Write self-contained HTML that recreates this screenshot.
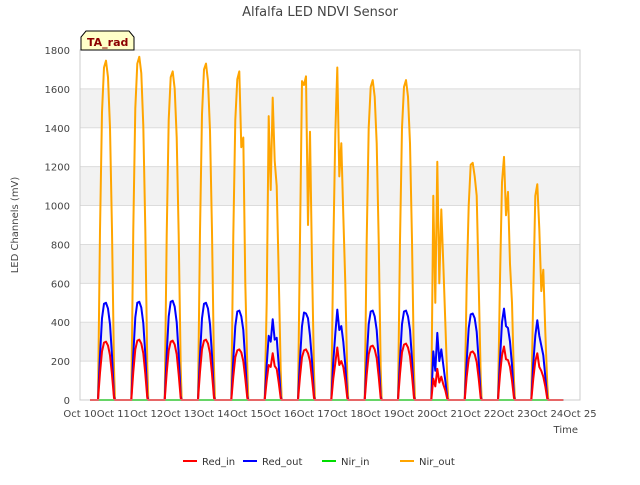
<!DOCTYPE html>
<html><head><meta charset="utf-8"><style>
body{margin:0;background:#fff;font-family:"Liberation Sans","DejaVu Sans",sans-serif}
svg text{font-family:"DejaVu Sans","Liberation Sans",sans-serif}
</style></head><body>
<svg id="c" width="640" height="480" xmlns="http://www.w3.org/2000/svg">
<text x="320" y="16" text-anchor="middle" font-size="13" fill="#444">Alfalfa LED NDVI Sensor</text>
<g id="grid"></g>
<g id="series"></g>
<g id="axes"></g>
<g>
<path d="M81,50 L81,37 L86,31 L129,31 L134,37 L134,50 Z" fill="#ffffc8" stroke="#000" stroke-width="1"/>
<text x="87" y="46" font-size="11" font-weight="bold" fill="#8b0000">TA_rad</text>
</g>
<text x="578" y="433" text-anchor="end" font-size="10" fill="#444">Time</text>
<text x="18" y="225" text-anchor="middle" font-size="10" fill="#444" transform="rotate(-90 18 225)">LED Channels (mV)</text>
<g id="legend"></g>
</svg>
<script>
const days=[10,11,12,13,14,15,16,17,18,19,20,21,22,23];
const offsets=[0.54,0.6,0.66,0.72,0.78,0.84,0.9,0.96,1.02,1.05];
const nirOut=[
[0,870,1480,1710,1745,1660,1400,870,170,0],
[0,880,1500,1730,1765,1680,1410,880,180,0],
[0,845,1440,1660,1690,1600,1350,845,170,0],
[0,865,1470,1700,1730,1640,1385,865,170,0],
[0,845,1440,1650,1690,1300,1350,600,170,0],
[0,500,1460,1080,1555,1230,1100,650,150,0],
[0,830,1640,1620,1665,900,1380,700,150,0],
[0,780,1370,1710,1150,1320,950,600,120,0],
[0,820,1400,1610,1645,1560,1320,820,160,0],
[0,820,1400,1610,1645,1560,1320,820,160,0],
[0,1050,500,1225,600,980,700,400,100,0],
[0,600,1000,1210,1220,1150,1050,600,120,0],
[0,620,1120,1250,950,1070,700,500,100,0],
[0,550,1050,1110,880,560,670,350,80,0]];
const redOut=[
[0,230,420,495,500,470,390,230,20,0],
[0,235,425,500,505,475,395,235,20,0],
[0,235,430,505,510,480,400,235,20,0],
[0,230,420,495,500,470,390,230,20,0],
[0,210,380,455,460,430,360,200,20,0],
[0,180,330,300,415,310,320,180,20,0],
[0,210,380,450,445,420,330,200,20,0],
[0,200,340,465,360,380,300,180,20,0],
[0,210,390,455,460,430,360,210,20,0],
[0,210,390,455,460,430,360,210,20,0],
[0,250,150,345,200,260,180,100,10,0],
[0,200,370,440,445,420,350,200,20,0],
[0,210,400,470,380,370,300,180,20,0],
[0,190,330,410,330,280,230,120,10,0]];
const redIn=[
[0,140,250,295,300,280,230,130,10,0],
[0,145,260,305,310,290,240,135,10,0],
[0,140,255,300,305,285,235,130,10,0],
[0,145,260,305,310,290,240,135,10,0],
[0,120,220,255,260,245,200,110,10,0],
[0,100,180,170,240,175,160,90,10,0],
[0,120,220,255,260,240,200,110,10,0],
[0,110,190,270,180,200,170,100,10,0],
[0,130,235,275,280,260,215,120,10,0],
[0,135,245,285,290,270,225,125,10,0],
[0,110,70,160,90,120,80,50,5,0],
[0,120,210,245,250,235,195,110,10,0],
[0,130,230,275,210,205,170,100,10,0],
[0,110,200,240,170,150,120,70,5,0]];
const nirIn=[0,0,0,0,0,0,0,0,0,0,0,0,0,0];
const yTicks=[0,200,400,600,800,1000,1200,1400,1600,1800];
const xTicks=[10,11,12,13,14,15,16,17,18,19,20,21,22,23,24,25];
const X0=80,X1=580,Y0=400,Y1=50;
const xs=t=>X0+(t-10)/15*(X1-X0);
const ys=v=>Y0-v/1800*(Y0-Y1);
const NS="http://www.w3.org/2000/svg";
function mk(tag,attrs,parent){const e=document.createElementNS(NS,tag);for(const k in attrs)e.setAttribute(k,attrs[k]);parent.appendChild(e);return e;}
const grid=document.getElementById('grid'),axes=document.getElementById('axes'),ser=document.getElementById('series'),leg=document.getElementById('legend');
for(let i=0;i<yTicks.length-1;i++){
 if(i%2===1){const r=mk('rect',{x:X0,y:ys(yTicks[i+1]),width:X1-X0,height:ys(yTicks[i])-ys(yTicks[i+1]),fill:'#f2f2f2'},grid);
 
 }
}
yTicks.forEach(v=>{
 const l=mk('line',{x1:X0,x2:X1,y1:ys(v),y2:ys(v),stroke:'#dcdcdc'},grid);
 
 
 const t=mk('text',{x:X0-10,y:ys(v)+4,'text-anchor':'end','font-size':'10',fill:'#444'},axes);
 t.textContent=v;
 
 
});
const frame=mk('rect',{x:X0,y:Y1,width:X1-X0,height:Y0-Y1,fill:'none',stroke:'#ccc'},axes);


xTicks.forEach(d=>{
 const t=mk('text',{x:xs(d),y:Y0+17,'text-anchor':'middle','font-size':'10',fill:'#444'},axes);
 t.textContent='Oct '+d;
 
 
});
function pts(arr){let p=[[xs(10.3),ys(0)]];days.forEach((d,i)=>offsets.forEach((o,j)=>p.push([xs(d+o),ys(arr[i][j])])));p.push([xs(24.5),ys(0)]);return p.map(q=>q[0].toFixed(1)+','+q[1].toFixed(1)).join(' ');}
const series=[['Red_in','#ff0000',redIn],['Red_out','#0000ff',redOut],['Nir_in','#00dd00',null],['Nir_out','#ffa500',nirOut]];
[['Nir_in',series[2]],['Nir_out',series[3]],['Red_out',series[1]],['Red_in',series[0]]].forEach(([n,s])=>{
 let p;
 if(s[2])p=pts(s[2]);else p=[xs(10.3),ys(0)].join(',')+' '+days.map((d,i)=>xs(d+0.5)+','+ys(nirIn[i])).join(' ')+' '+xs(24.5)+','+ys(0);
 const pl=mk('polyline',{points:p,fill:'none',stroke:s[1],'stroke-width':2,'stroke-linejoin':'round'},ser);
 
 
});
const lx=[183,243,322,400];
series.forEach((s,i)=>{
 const g=mk('g',{},leg);
 
 
 mk('line',{x1:lx[i],x2:lx[i]+14,y1:461,y2:461,stroke:s[1],'stroke-width':2},g);
 const t=mk('text',{x:lx[i]+19,y:465,'font-size':'10',fill:'#333'},g);
 t.textContent=s[0];
});
</script>
</body></html>
